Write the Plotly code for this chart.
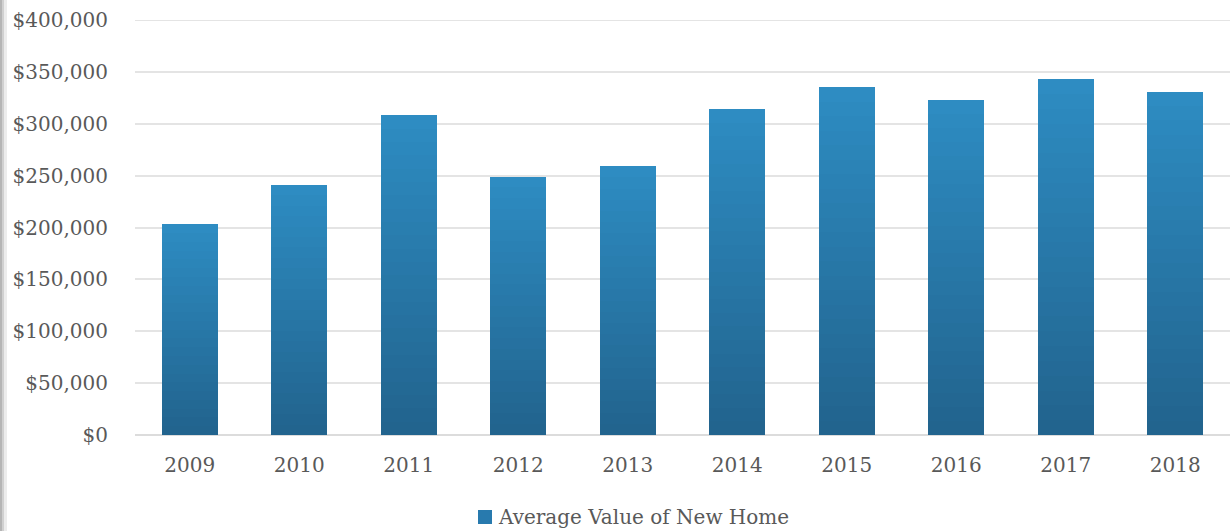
import plotly.graph_objects as go

years = ["2009", "2010", "2011", "2012", "2013", "2014", "2015", "2016", "2017", "2018"]
avg_value = [203000, 241000, 308000, 249000, 259000, 314000, 335000, 323000, 343000, 331000]
series_name = "Average Value of New Home"
y_top = 400000

# bars have a vertical gradient: stack thin slices from dark (bottom) to light (top)
n_slices = 24
dark = (34, 100, 142)
light = (46, 140, 194)

fig = go.Figure()
for k in range(n_slices):
    t = k / (n_slices - 1)
    c = tuple(int(dark[i] + (light[i] - dark[i]) * t) for i in range(3))
    fig.add_trace(go.Bar(
        x=years,
        y=[v / n_slices for v in avg_value],
        marker=dict(color="rgb(%d,%d,%d)" % c, line=dict(width=0)),
        name=series_name,
        showlegend=False,
        hovertemplate="%{x}<extra></extra>",
    ))

font_family = "DejaVu Serif"
W, H = 1230, 531
L, R, T, B = 135, 0, 20, 96
pw, ph = W - L - R, H - T - B


def px(x):
    return (x - L) / pw


def py(y):
    return (H - B - y) / ph


fig.update_layout(
    width=W, height=H,
    barmode="stack",
    bargap=0.49,
    showlegend=False,
    plot_bgcolor="white",
    paper_bgcolor="white",
    margin=dict(l=L, r=R, t=T, b=B),
    font=dict(family=font_family, size=20, color="#595959"),
    shapes=[
        # page edge shadow on the left
        dict(type="rect", xref="paper", yref="paper",
             x0=px(0), x1=px(2), y0=py(H), y1=py(0),
             fillcolor="#b5b5b5", line=dict(width=0), layer="below"),
        dict(type="rect", xref="paper", yref="paper",
             x0=px(2), x1=px(4), y0=py(H), y1=py(0),
             fillcolor="#d0d0d0", line=dict(width=0), layer="below"),
        dict(type="rect", xref="paper", yref="paper",
             x0=px(4), x1=px(7), y0=py(H), y1=py(0),
             fillcolor="#ececec", line=dict(width=0), layer="below"),
        # top gridline (plotly drops the one on the plot edge)
        dict(type="line", xref="paper", yref="y",
             x0=0, x1=1, y0=y_top, y1=y_top,
             line=dict(color="#e4e4e4", width=2), layer="below"),
        # legend swatch
        dict(type="rect", xref="paper", yref="paper",
             x0=px(478), x1=px(492), y0=py(524), y1=py(510),
             fillcolor="rgb(40,122,174)", line=dict(width=0)),
    ],
    annotations=[dict(
        text=series_name, xref="paper", yref="paper",
        x=px(496), y=py(517), xanchor="left", yanchor="middle",
        showarrow=False, font=dict(size=20, color="#595959"),
    )],
)

fig.update_yaxes(
    range=[0, y_top],
    dtick=50000,
    tickprefix="$",
    tickformat=",",
    showgrid=True,
    gridcolor="#e4e4e4",
    gridwidth=2,
    zeroline=True,
    zerolinecolor="#dcdcdc",
    zerolinewidth=2,
    ticklabelstandoff=26,
    automargin=False,
)
fig.update_xaxes(
    showgrid=False,
    ticklabelstandoff=16,
    automargin=False,
)

# drop the default body margin so the chart sits at the page corner
fig.write_html(
    "out.html",
    config={"displayModeBar": False},
    post_script="document.body.style.margin='0';",
)
